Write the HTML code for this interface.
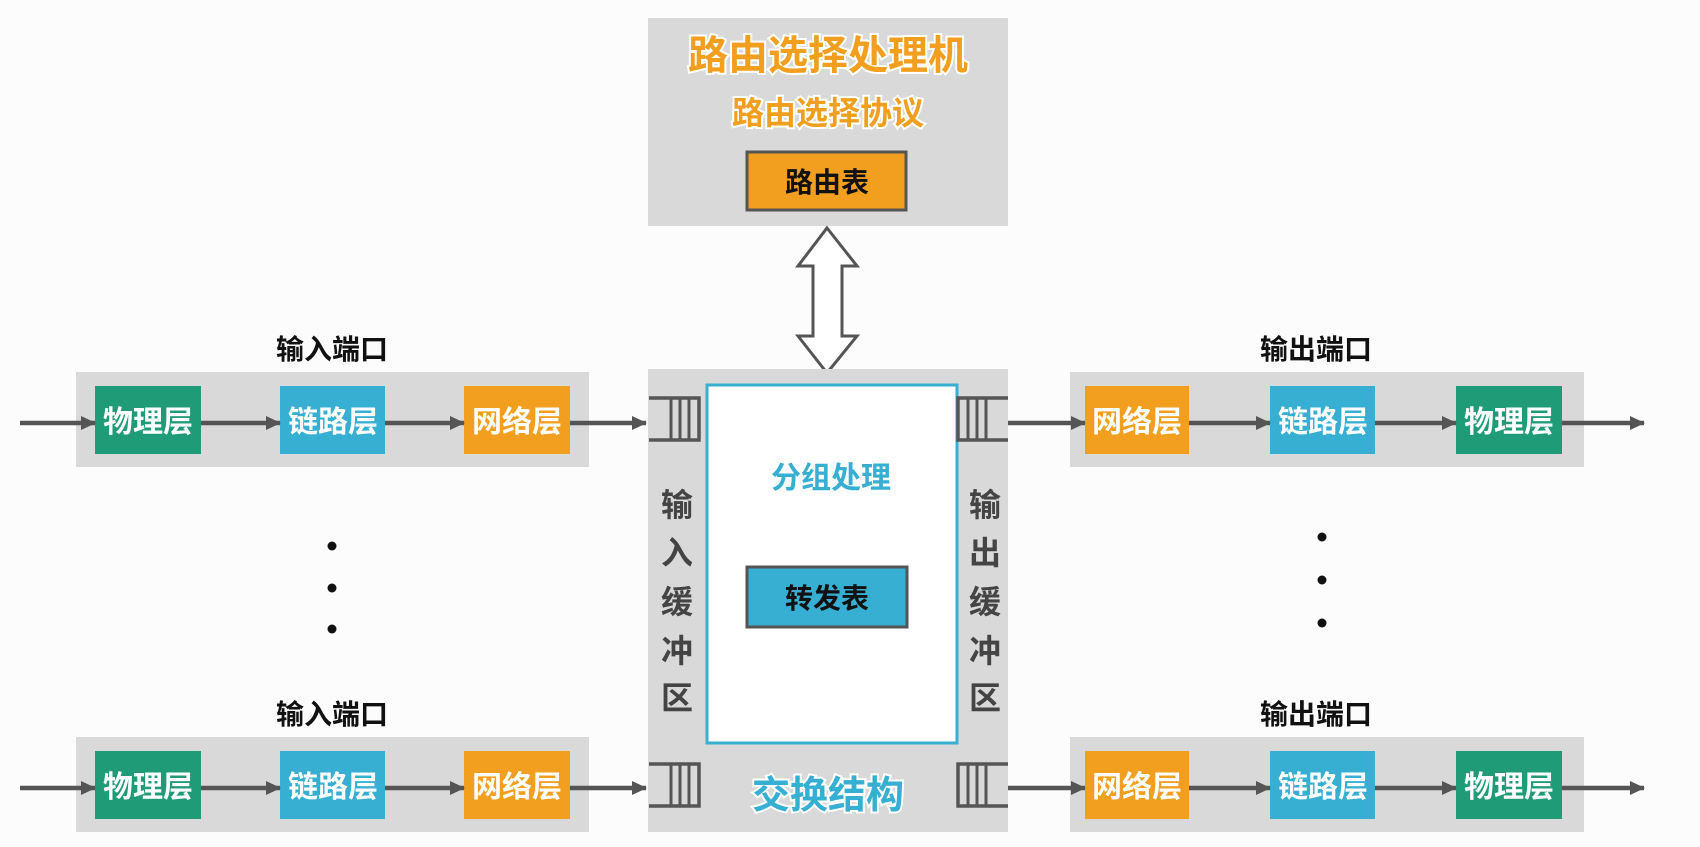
<!DOCTYPE html>
<html><head><meta charset="utf-8"><style>
html,body{margin:0;padding:0;background:#fcfcfc;}
svg{display:block;}
text{font-family:"Liberation Sans","Noto Sans CJK SC",sans-serif;font-weight:bold;}
</style></head><body>
<svg width="1700" height="847" viewBox="0 0 1700 847" xmlns="http://www.w3.org/2000/svg">
<defs>
<marker id="ah" markerWidth="16" markerHeight="16" refX="14" refY="8" orient="auto" markerUnits="userSpaceOnUse">
<path d="M0,1 L15,8 L0,15 z" fill="#555"/></marker>
<g id="buf" fill="none" stroke="#555" stroke-width="3.5">
<path d="M0,0 H50 V42 H0"/>
<path d="M22,0 V42 M31,0 V42 M40,0 V42" stroke-width="3"/>
</g>
</defs>
<!-- top box -->
<rect x="648" y="18" width="360" height="208" fill="#d9d9d9"/>
<text x="828" y="69" font-size="40" text-anchor="middle" fill="#f29f1f" stroke="#fff" stroke-width="4" paint-order="stroke">路由选择处理机</text>
<text x="828" y="124" font-size="32" text-anchor="middle" fill="#f29f1f" stroke="#fff" stroke-width="4" paint-order="stroke">路由选择协议</text>
<rect x="747" y="152" width="159" height="58" fill="#f29f1f" stroke="#555" stroke-width="3"/>
<text x="827" y="192" font-size="28" text-anchor="middle" fill="#111">路由表</text>
<!-- double arrow -->
<path d="M827,228 L857,266 L842,266 L842,336 L857,336 L827,373 L798,336 L813,336 L813,266 L798,266 Z" fill="#fff" stroke="#555" stroke-width="3"/>
<!-- center box -->
<rect x="648" y="369" width="360" height="463" fill="#d9d9d9"/>
<rect x="707" y="385" width="250" height="358" fill="#fff" stroke="#36afd2" stroke-width="3"/>
<text x="831" y="488" font-size="30" text-anchor="middle" fill="#36afd2">分组处理</text>
<rect x="747" y="567" width="160" height="60" fill="#36afd2" stroke="#555" stroke-width="3"/>
<text x="827" y="608" font-size="28" text-anchor="middle" fill="#111">转发表</text>
<text x="828" y="808" font-size="38" text-anchor="middle" fill="#36afd2" stroke="#fff" stroke-width="4" paint-order="stroke">交换结构</text>
<g font-size="32" text-anchor="middle" fill="#444">
<text x="677" y="516">输</text><text x="677" y="564">入</text><text x="677" y="613">缓</text><text x="677" y="662">冲</text><text x="677" y="709">区</text>
<text x="985" y="516">输</text><text x="985" y="564">出</text><text x="985" y="613">缓</text><text x="985" y="662">冲</text><text x="985" y="709">区</text>
</g>
<use href="#buf" x="649" y="398"/>
<use href="#buf" x="649" y="764"/>
<g transform="translate(1965,0) scale(-1,1)"><use href="#buf" x="957" y="398"/><use href="#buf" x="957" y="764"/></g>

<!-- left panels -->
<g id="lp">
<rect x="76" y="372" width="513" height="95" fill="#d9d9d9"/>
<rect x="95" y="386" width="106" height="68" fill="#1f9b78"/>
<rect x="280" y="386" width="105" height="68" fill="#36afd2"/>
<rect x="464" y="386" width="106" height="68" fill="#f29f1f"/>
<g font-size="30" fill="#fff" text-anchor="middle">
<text x="148" y="432">物理层</text><text x="333" y="432">链路层</text><text x="517" y="432">网络层</text></g>
<g stroke="#555" stroke-width="4.5" marker-end="url(#ah)">
<line x1="20" y1="423" x2="95" y2="423"/><line x1="201" y1="423" x2="280" y2="423"/>
<line x1="385" y1="423" x2="464" y2="423"/><line x1="570" y1="423" x2="646" y2="423"/></g>
<text x="332" y="359" font-size="28" text-anchor="middle" fill="#111">输入端口</text>
</g>
<use href="#lp" y="365"/>
<!-- right panels -->
<g id="rp">
<rect x="1070" y="372" width="514" height="95" fill="#d9d9d9"/>
<rect x="1085" y="386" width="104" height="68" fill="#f29f1f"/>
<rect x="1270" y="386" width="105" height="68" fill="#36afd2"/>
<rect x="1456" y="386" width="106" height="68" fill="#1f9b78"/>
<g font-size="30" fill="#fff" text-anchor="middle">
<text x="1137" y="432">网络层</text><text x="1323" y="432">链路层</text><text x="1509" y="432">物理层</text></g>
<g stroke="#555" stroke-width="4.5" marker-end="url(#ah)">
<line x1="1008" y1="423" x2="1085" y2="423"/><line x1="1189" y1="423" x2="1270" y2="423"/>
<line x1="1375" y1="423" x2="1456" y2="423"/><line x1="1562" y1="423" x2="1644" y2="423"/></g>
<text x="1316" y="359" font-size="28" text-anchor="middle" fill="#111">输出端口</text>
</g>
<use href="#rp" y="365"/>
<!-- dots -->
<g fill="#111"><circle cx="332" cy="546" r="4.5"/><circle cx="332" cy="588" r="4.5"/><circle cx="332" cy="629" r="4.5"/>
<circle cx="1322" cy="537" r="4.5"/><circle cx="1322" cy="580" r="4.5"/><circle cx="1322" cy="623" r="4.5"/></g>
</svg>
</body></html>
